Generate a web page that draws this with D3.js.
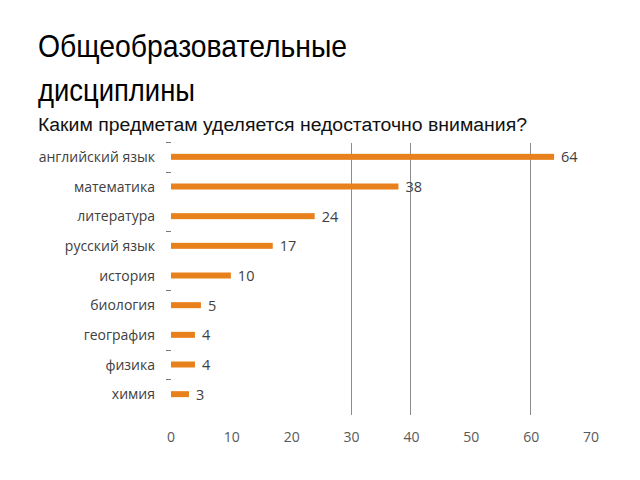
<!DOCTYPE html>
<html><head><meta charset="utf-8">
<script src="https://cdn.jsdelivr.net/npm/d3@7"></script>
<style>body{margin:0;background:#fff;}svg{display:block;}</style>
</head><body>
<script>
const categories = ["английский язык","математика","литература","русский язык","история","биология","география","физика","химия"];
const values = [64,38,24,17,10,5,4,4,3];
const xTicks = [0,10,20,30,40,50,60,70];
const gridValues = [30,40,60];
const titleLines = ["Общеобразовательные","дисциплины"];
const subtitle = "Каким предметам уделяется недостаточно внимания?";

const W=640,H=480;
const svg=d3.select("body").append("svg").attr("width",W).attr("height",H);
const x=d3.scaleLinear().domain([0,70]).range([171,590]);
const y=d3.scaleBand().domain(categories).range([142,409]);

const titleWidths=[309,157];
svg.selectAll("text.title").data(titleLines).join("text")
  .attr("x",38).attr("y",(d,i)=>57+i*44)
  .attr("font-family","Liberation Sans, Arial, sans-serif").attr("font-size",32)
  .attr("textLength",(d,i)=>titleWidths[i]).attr("lengthAdjust","spacingAndGlyphs")
  .attr("fill","#000").text(d=>d);
svg.append("text").attr("x",38).attr("y",131)
  .attr("font-family","Liberation Sans, Arial, sans-serif").attr("font-size",18)
  .attr("textLength",489).attr("lengthAdjust","spacingAndGlyphs")
  .attr("fill","#111").text(subtitle);

svg.selectAll("line.grid").data(gridValues).join("line")
  .attr("x1",d=>Math.round(x(d))+0.5).attr("x2",d=>Math.round(x(d))+0.5).attr("y1",143).attr("y2",415)
  .attr("stroke","#8c8c8c").attr("stroke-width",1);

// small tick dashes at some category boundaries
const dashIdx=[0,1,3,5,7,8];
svg.selectAll("line.dash").data(dashIdx).join("line")
  .attr("x1",166).attr("x2",171).attr("y1",i=>Math.round(y(categories[i]))+0.5).attr("y2",i=>Math.round(y(categories[i]))+0.5)
  .attr("stroke","#777").attr("stroke-width",1);

svg.selectAll("rect.bar").data(values).join("rect")
  .attr("x",x(0)).attr("y",(d,i)=>y(categories[i])+y.bandwidth()/2-3)
  .attr("width",d=>x(d)-x(0)).attr("height",6).attr("fill","#E8801C");

svg.selectAll("text.val").data(values).join("text")
  .attr("x",d=>x(d)+7).attr("y",(d,i)=>y(categories[i])+y.bandwidth()/2+5.5)
  .attr("font-family","Open Sans, sans-serif").attr("font-size",14.5)
  .attr("fill","#404040").text(d=>d);

svg.selectAll("text.cat").data(categories).join("text")
  .attr("x",155).attr("y",d=>y(d)+y.bandwidth()/2+5)
  .attr("text-anchor","end")
  .attr("font-family","Open Sans, sans-serif").attr("font-size",14)
  .attr("fill","#404040").text(d=>d);

svg.selectAll("text.tick").data(xTicks).join("text")
  .attr("x",d=>x(d)+(d>=10?1:0)).attr("y",442).attr("text-anchor","middle")
  .attr("font-family","Open Sans, sans-serif").attr("font-size",14)
  .attr("fill","#595959").text(d=>d);
</script>
</body></html>
